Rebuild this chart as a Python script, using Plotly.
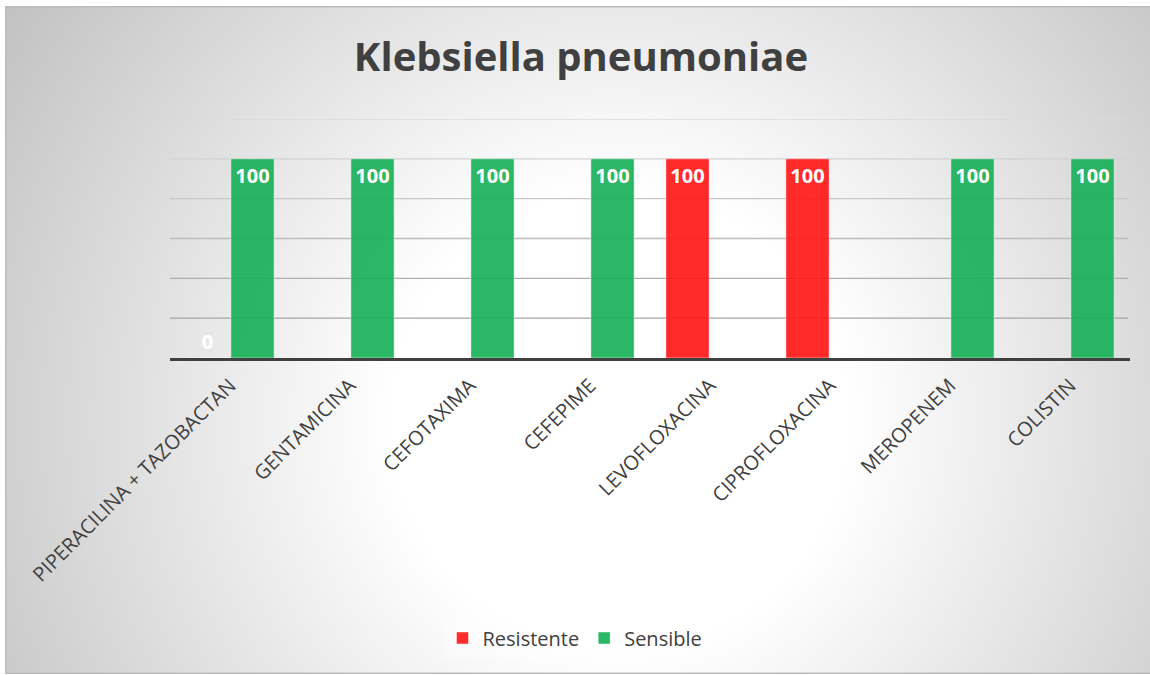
import base64
import plotly.graph_objects as go

categories = ["PIPERACILINA + TAZOBACTAN", "GENTAMICINA", "CEFOTAXIMA", "CEFEPIME",
              "LEVOFLOXACINA", "CIPROFLOXACINA", "MEROPENEM", "COLISTIN"]
resistente = [0, None, None, None, 100, 100, None, None]
sensible = [100, 100, 100, 100, None, None, 100, 100]
grid_values = [20, 40, 60, 80, 100, 120]
grid_colors = ["#a6a6a6", "#b0b0b0", "#bdbdbd", "#c8c8c8", "#d2d2d2", "#dadada"]

W, H = 1150, 675
FONT = "Open Sans"
TXT = "#404040"

# radial gradient background (chart area)
bx0, by0, bx1, by1 = 5, 6, 1150, 674
bw, bh = bx1 - bx0, by1 - by0
svg = f'''<svg xmlns="http://www.w3.org/2000/svg" width="{bw}" height="{bh}" viewBox="0 0 {bw} {bh}" preserveAspectRatio="none">
<defs><radialGradient id="g" gradientUnits="userSpaceOnUse" cx="615" cy="414" r="760">
<stop offset="0" stop-color="#ffffff"/><stop offset="0.3" stop-color="#ffffff"/>
<stop offset="1" stop-color="#bfbfbf"/></radialGradient></defs>
<rect x="0" y="0" width="{bw}" height="{bh}" fill="url(#g)"/>
<rect x="0.75" y="0.75" width="{bw+2}" height="{bh-1.5}" fill="none" stroke="#bcbcbc" stroke-width="1.5"/>
</svg>'''
src = "data:image/svg+xml;base64," + base64.b64encode(svg.encode()).decode()

def r_textpos(v):
    return "outside" if v == 0 else "inside"

LBL = dict(family=FONT, size=20, color="white", weight="bold")

fig = go.Figure()
fig.add_trace(go.Bar(
    name="Resistente", x=categories, y=resistente,
    marker=dict(color="rgba(255,20,20,0.9)", line=dict(color="rgba(255,255,255,0.45)", width=1)),
    text=[None if v is None else str(v) for v in resistente],
    textposition=[r_textpos(v) for v in resistente],
    insidetextanchor="end", textangle=0,
    textfont=LBL, outsidetextfont=LBL, insidetextfont=LBL,
    cliponaxis=False,
))
fig.add_trace(go.Bar(
    name="Sensible", x=categories, y=sensible,
    marker=dict(color="rgba(20,175,85,0.9)", line=dict(color="rgba(255,255,255,0.45)", width=1)),
    text=[None if v is None else str(v) for v in sensible],
    textposition="inside",
    insidetextanchor="end", textangle=0,
    insidetextfont=LBL,
    cliponaxis=False,
))

shapes = []
for gv, gc in zip(grid_values, grid_colors):
    shapes.append(dict(type="line", xref="x domain", yref="y", x0=0, x1=0.998, y0=gv, y1=gv,
                       line=dict(color=gc, width=1.3), layer="below"))

fig.update_layout(
    width=W, height=H,
    margin=dict(l=0, r=0, t=0, b=0, autoexpand=False),
    paper_bgcolor="white", plot_bgcolor="rgba(0,0,0,0)",
    images=[dict(source=src, xref="paper", yref="paper", x=bx0 / W, y=1 - by0 / H,
                 sizex=bw / W, sizey=bh / H, sizing="stretch", xanchor="left", yanchor="top",
                 layer="below")],
    title=dict(text="<b>Klebsiella pneumoniae</b>", x=581 / W, xanchor="center",
               y=1 - 57 / H, yanchor="middle", font=dict(family=FONT, size=40, color=TXT)),
    barmode="group", bargap=0.25, bargroupgap=0.04,
    xaxis=dict(domain=[170 / W, 1130 / W], tickangle=-45, showgrid=False, automargin=False,
               tickfont=dict(family=FONT, size=20, color=TXT), ticklabelstandoff=5,
               showline=True, linecolor="#404040", linewidth=3, ticks=""),
    yaxis=dict(domain=[(H - 358) / H, (H - 119) / H], range=[0, 120], dtick=20, automargin=False,
               showgrid=False, showticklabels=False, zeroline=False, showline=False),
    shapes=shapes,
    legend=dict(orientation="h", x=0.5, xanchor="center", y=(H - 638) / H, yanchor="middle",
                font=dict(family=FONT, size=20, color=TXT), bgcolor="rgba(255,255,255,0.3)",
                itemwidth=30),
    showlegend=True,
)
fig.write_html("out.html", post_script="document.body.style.margin='0';",
               config={"displayModeBar": False})
